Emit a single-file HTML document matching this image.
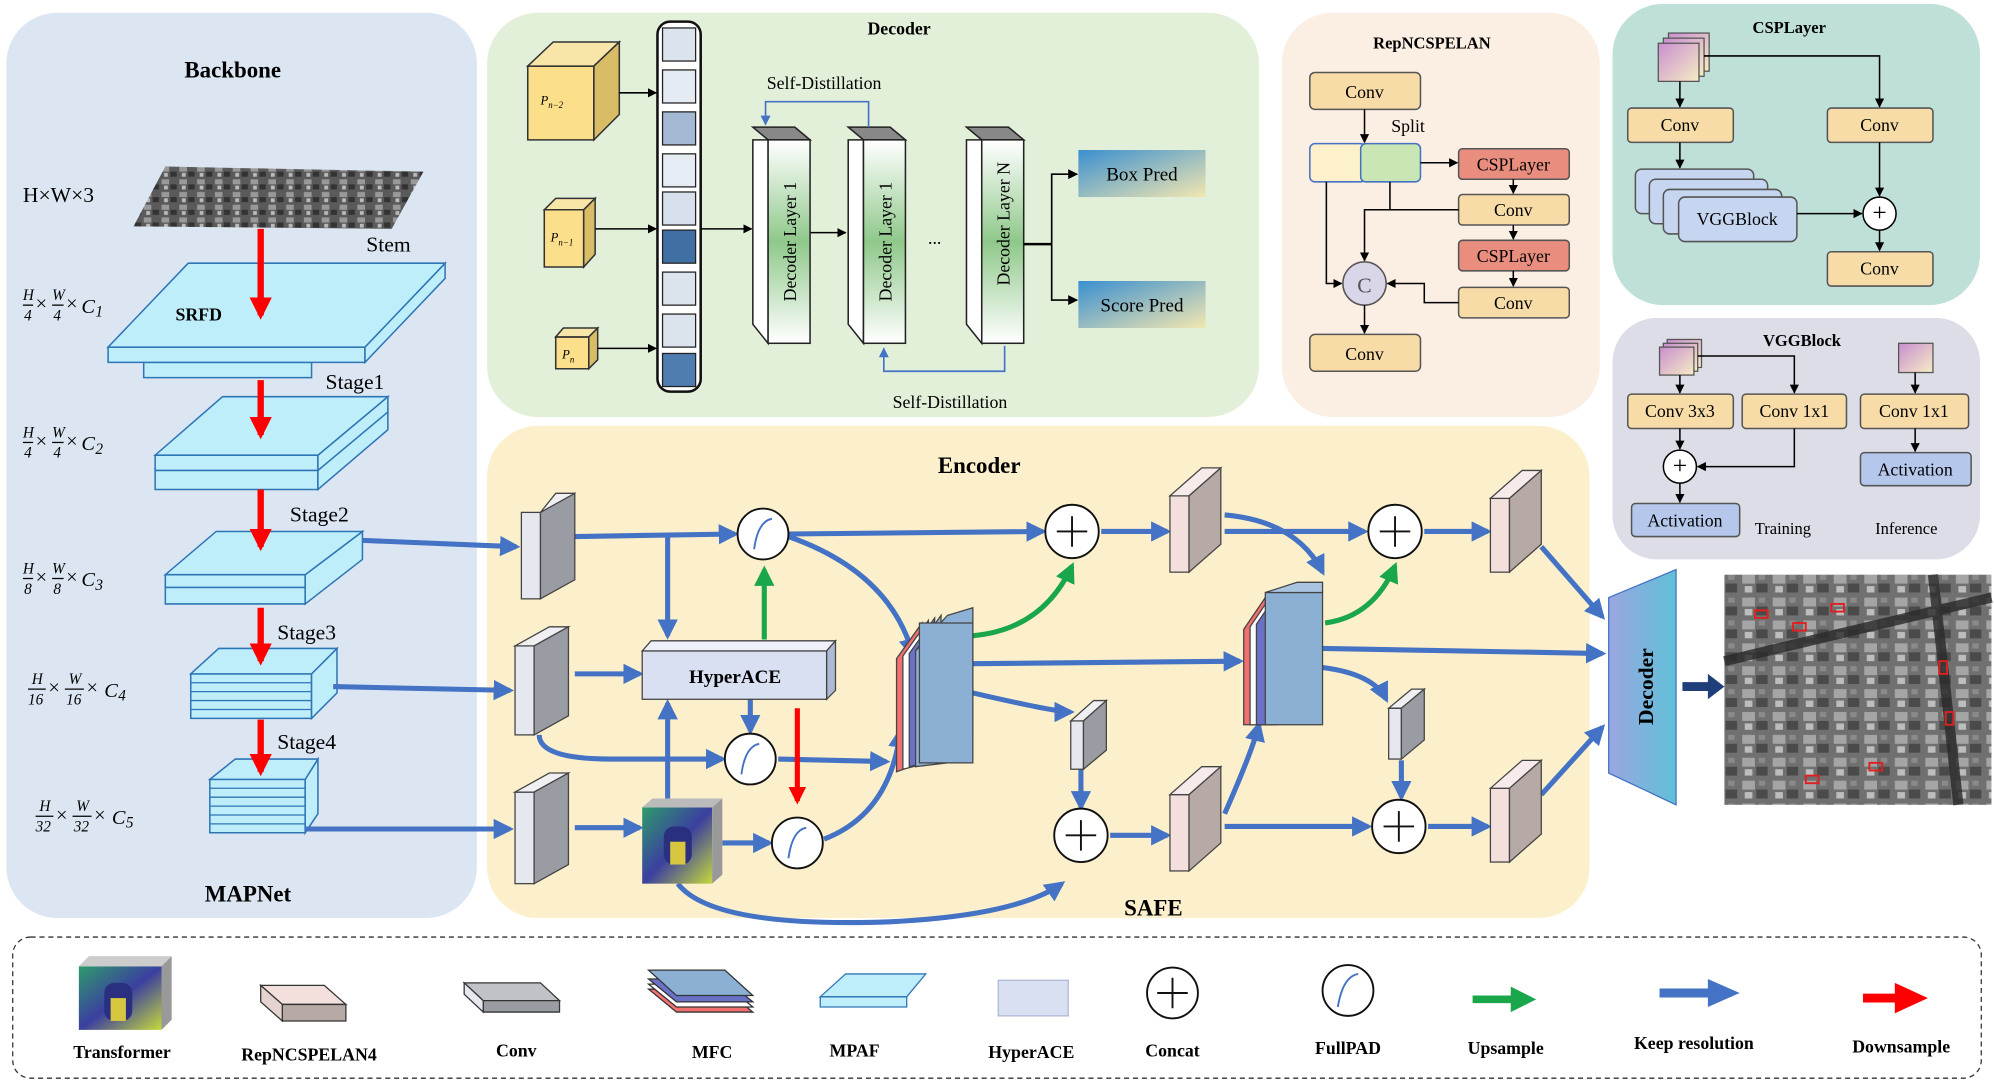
<!DOCTYPE html><html><head><meta charset="utf-8"><style>html,body{margin:0;padding:0;background:#fff}svg{display:block}text{font-family:"Liberation Serif",serif}</style></head><body>
<svg width="1994" height="1082" viewBox="0 0 1568 851" preserveAspectRatio="none" xmlns="http://www.w3.org/2000/svg">
<defs>
<marker id="ab" viewBox="0 0 10 10" refX="8" refY="5" markerWidth="4" markerHeight="4" orient="auto"><path d="M0,0L10,5L0,10z" fill="#4472c4"/></marker>
<marker id="ar" viewBox="0 0 10 10" refX="8" refY="5" markerWidth="3.5" markerHeight="3.5" orient="auto"><path d="M0,0L10,5L0,10z" fill="#f00"/></marker>
<marker id="ag" viewBox="0 0 10 10" refX="8" refY="5" markerWidth="4" markerHeight="4" orient="auto"><path d="M0,0L10,5L0,10z" fill="#1aa64a"/></marker>
<marker id="ak" viewBox="0 0 10 10" refX="9" refY="5" markerWidth="6" markerHeight="6" orient="auto"><path d="M0,0L10,5L0,10z" fill="#000"/></marker>
<marker id="at" viewBox="0 0 10 10" refX="9" refY="5" markerWidth="6" markerHeight="6" orient="auto"><path d="M0,0L10,5L0,10z" fill="#4472c4"/></marker>
<linearGradient id="gp" x1="0" y1="0" x2="1" y2="1"><stop offset="0" stop-color="#3a8fd0"/><stop offset="1" stop-color="#f3e7b0"/></linearGradient>
<linearGradient id="gd" x1="0" y1="0" x2="0" y2="1"><stop offset="0" stop-color="#fff"/><stop offset=".5" stop-color="#8fc88a"/><stop offset="1" stop-color="#fff"/></linearGradient>
<linearGradient id="gt" x1="0" y1="0" x2="1" y2="1"><stop offset="0" stop-color="#2e9b6b"/><stop offset=".5" stop-color="#3b3fa0"/><stop offset="1" stop-color="#c6d93a"/></linearGradient>
<linearGradient id="gf" x1="0" y1="0" x2="1" y2="1"><stop offset="0" stop-color="#c88fd0"/><stop offset="1" stop-color="#f6ecc4"/></linearGradient>
<linearGradient id="gdec" x1="0" y1="0" x2="1" y2="0"><stop offset="0" stop-color="#9aa6e0"/><stop offset="1" stop-color="#5fc0d8"/></linearGradient>
<pattern id="tex" width="14" height="10" patternUnits="userSpaceOnUse"><rect width="14" height="10" fill="#5a5a5a"/><rect x="1" y="1" width="6" height="4" fill="#999"/><rect x="8" y="5" width="5" height="4" fill="#333"/><rect x="3" y="6" width="3" height="3" fill="#bbb"/></pattern>
<pattern id="tex2" width="24" height="18" patternUnits="userSpaceOnUse"><rect width="24" height="18" fill="#707070"/><rect x="2" y="2" width="10" height="7" fill="#a5a5a5"/><rect x="13" y="9" width="9" height="7" fill="#4a4a4a"/><rect x="4" y="11" width="6" height="5" fill="#bdbdbd"/><rect x="15" y="2" width="5" height="4" fill="#8a8a8a"/></pattern>
</defs>
<!-- panels -->
<rect x="5" y="10" width="370" height="712" rx="40" fill="#dce6f2"/>
<rect x="383" y="10" width="607" height="318" rx="40" fill="#e3f0d9"/>
<rect x="1008" y="10" width="250" height="318" rx="40" fill="#fbeee2"/>
<rect x="1268" y="3" width="289" height="237" rx="40" fill="#bfe0d8"/>
<rect x="1268" y="250" width="289" height="190" rx="35" fill="#dcdde6"/>
<rect x="383" y="335" width="867" height="387" rx="40" fill="#fcefcb"/>
<rect x="10" y="737" width="1548" height="111" rx="14" fill="none" stroke="#333" stroke-dasharray="4,3"/>

<!-- Backbone -->
<text x="183" y="61" font-size="18" font-weight="bold" text-anchor="middle">Backbone</text>
<text x="18" y="159" font-size="17">H×W×3</text>
<polygon points="130,131 333,135 308,180 105,178" fill="url(#tex)"/>
<g fill="#bfeefb" stroke="#2e75b6" stroke-width="1.2">
<polygon points="113,285 245,285 245,297 113,297"/>
<polygon points="85,273 287,273 287,285 85,285"/><polygon points="287,273 350,207 350,219 287,285"/>
<polygon points="148,207 350,207 287,273 85,273"/>
<polygon points="122,368 250,368 250,385 122,385"/><polygon points="250,368 305,322 305,338 250,385"/>
<polygon points="122,358 250,358 250,370 122,370"/><polygon points="250,358 305,312 305,324 250,370"/>
<polygon points="175,312 305,312 250,358 122,358"/>
<polygon points="130,462 240,462 240,475 130,475"/><polygon points="130,452 240,452 240,462 130,462"/><polygon points="240,452 285,418 285,440 240,475"/>
<polygon points="170,418 285,418 240,452 130,452"/>
<polygon points="150,530 245,530 245,565 150,565"/><polygon points="245,530 265,510 265,545 245,565"/>
<polygon points="172,510 265,510 245,530 150,530"/>
<polygon points="165,613 240,613 240,655 165,655"/><polygon points="240,613 250,597 250,640 240,655"/>
<polygon points="185,597 250,597 240,613 165,613"/>
</g>
<g stroke="#2e75b6" stroke-width="1"><line x1="150" y1="537" x2="245" y2="537"/><line x1="150" y1="544" x2="245" y2="544"/><line x1="150" y1="551" x2="245" y2="551"/><line x1="150" y1="558" x2="245" y2="558"/>
<line x1="165" y1="620" x2="240" y2="620"/><line x1="165" y1="627" x2="240" y2="627"/><line x1="165" y1="634" x2="240" y2="634"/><line x1="165" y1="641" x2="240" y2="641"/><line x1="165" y1="648" x2="240" y2="648"/></g>
<text x="288" y="198" font-size="17">Stem</text>
<text x="138" y="252" font-size="14" font-weight="bold">SRFD</text>
<text x="256" y="306" font-size="17">Stage1</text>
<text x="228" y="410" font-size="17">Stage2</text>
<text x="218" y="503" font-size="17">Stage3</text>
<text x="218" y="589" font-size="17">Stage4</text>
<text x="195" y="709" font-size="18" font-weight="bold" text-anchor="middle">MAPNet</text>
<g stroke="#f00" stroke-width="5" marker-end="url(#ar)"><line x1="205" y1="180" x2="205" y2="248"/><line x1="205" y1="299" x2="205" y2="342"/><line x1="205" y1="385" x2="205" y2="430"/><line x1="205" y1="478" x2="205" y2="520"/><line x1="205" y1="566" x2="205" y2="607"/></g>
<g font-size="12" font-style="italic">
<g transform="translate(18,240)"><text x="0" y="-4">H</text><line x1="0" y1="0" x2="8" y2="0" stroke="#000"/><text x="1" y="12">4</text><text x="10" y="4" font-style="normal" font-size="16">×</text><text x="23" y="-4">W</text><line x1="23" y1="0" x2="32" y2="0" stroke="#000"/><text x="24" y="12">4</text><text x="34" y="4" font-style="normal" font-size="16">×</text><text x="46" y="6" font-size="16">C</text><text x="57" y="9">1</text></g>
<g transform="translate(18,348)"><text x="0" y="-4">H</text><line x1="0" y1="0" x2="8" y2="0" stroke="#000"/><text x="1" y="12">4</text><text x="10" y="4" font-style="normal" font-size="16">×</text><text x="23" y="-4">W</text><line x1="23" y1="0" x2="32" y2="0" stroke="#000"/><text x="24" y="12">4</text><text x="34" y="4" font-style="normal" font-size="16">×</text><text x="46" y="6" font-size="16">C</text><text x="57" y="9">2</text></g>
<g transform="translate(18,455)"><text x="0" y="-4">H</text><line x1="0" y1="0" x2="8" y2="0" stroke="#000"/><text x="1" y="12">8</text><text x="10" y="4" font-style="normal" font-size="16">×</text><text x="23" y="-4">W</text><line x1="23" y1="0" x2="32" y2="0" stroke="#000"/><text x="24" y="12">8</text><text x="34" y="4" font-style="normal" font-size="16">×</text><text x="46" y="6" font-size="16">C</text><text x="57" y="9">3</text></g>
<g transform="translate(22,542)"><text x="3" y="-4">H</text><line x1="0" y1="0" x2="14" y2="0" stroke="#000"/><text x="0" y="12">16</text><text x="16" y="4" font-style="normal" font-size="16">×</text><text x="32" y="-4">W</text><line x1="29" y1="0" x2="44" y2="0" stroke="#000"/><text x="30" y="12">16</text><text x="46" y="4" font-style="normal" font-size="16">×</text><text x="60" y="6" font-size="16">C</text><text x="71" y="9">4</text></g>
<g transform="translate(28,642)"><text x="3" y="-4">H</text><line x1="0" y1="0" x2="14" y2="0" stroke="#000"/><text x="0" y="12">32</text><text x="16" y="4" font-style="normal" font-size="16">×</text><text x="32" y="-4">W</text><line x1="29" y1="0" x2="44" y2="0" stroke="#000"/><text x="30" y="12">32</text><text x="46" y="4" font-style="normal" font-size="16">×</text><text x="60" y="6" font-size="16">C</text><text x="71" y="9">5</text></g>
</g>

<!-- Decoder panel -->
<text x="707" y="27" font-size="14" font-weight="bold" text-anchor="middle">Decoder</text>
<g stroke="#333" stroke-width="1.2">
<polygon points="415,52 467,52 467,110 415,110" fill="#fbdf8a"/><polygon points="415,52 435,33 487,33 467,52" fill="#f7e6a8"/><polygon points="467,52 487,33 487,90 467,110" fill="#d9bd66"/>
<polygon points="428,165 459,165 459,210 428,210" fill="#fbdf8a"/><polygon points="428,165 437,156 468,156 459,165" fill="#f7e6a8"/><polygon points="459,165 468,156 468,200 459,210" fill="#d9bd66"/>
<polygon points="437,265 463,265 463,290 437,290" fill="#fbdf8a"/><polygon points="437,265 443,258 470,258 463,265" fill="#f7e6a8"/><polygon points="463,265 470,258 470,283 463,290" fill="#d9bd66"/>
</g>
<text x="425" y="82" font-size="10" font-style="italic">P<tspan font-size="7" dy="3">n−2</tspan></text>
<text x="433" y="190" font-size="10" font-style="italic">P<tspan font-size="7" dy="3">n−1</tspan></text>
<text x="442" y="282" font-size="10" font-style="italic">P<tspan font-size="7" dy="3">n</tspan></text>
<rect x="517" y="17" width="34" height="291" rx="10" fill="#fff" stroke="#111" stroke-width="2"/>
<g stroke="#222"><rect x="521" y="22" width="26" height="26" fill="#dbe4ee"/><rect x="521" y="55" width="26" height="26" fill="#e4ebf3"/><rect x="521" y="88" width="26" height="26" fill="#a3b9d4"/><rect x="521" y="121" width="26" height="26" fill="#e6ecf3"/><rect x="521" y="151" width="26" height="26" fill="#d7e1ed"/><rect x="521" y="181" width="26" height="26" fill="#3f6fa3"/><rect x="521" y="214" width="26" height="26" fill="#dbe3ed"/><rect x="521" y="247" width="26" height="26" fill="#dbe3ed"/><rect x="521" y="278" width="26" height="26" fill="#4f7db0"/></g>
<g stroke="#000" stroke-width="1.2" marker-end="url(#ak)"><line x1="487" y1="73" x2="516" y2="73"/><line x1="468" y1="180" x2="516" y2="180"/><line x1="470" y1="274" x2="516" y2="274"/><line x1="551" y1="180" x2="591" y2="180"/><line x1="637" y1="183" x2="665" y2="183"/></g>
<g stroke="#222" stroke-width="1.2">
<polygon points="592,110 604,110 604,270 592,255" fill="#fff"/><polygon points="592,100 625,100 637,110 604,110" fill="#888"/><rect x="604" y="110" width="33" height="160" fill="url(#gd)"/>
<polygon points="667,110 679,110 679,270 667,255" fill="#fff"/><polygon points="667,100 700,100 712,110 679,110" fill="#888"/><rect x="679" y="110" width="33" height="160" fill="url(#gd)"/>
<polygon points="760,110 772,110 772,270 760,255" fill="#fff"/><polygon points="760,100 793,100 805,110 772,110" fill="#888"/><rect x="772" y="110" width="33" height="160" fill="url(#gd)"/>
</g>
<g font-size="14" text-anchor="middle"><text transform="translate(626,190) rotate(-90)">Decoder Layer 1</text><text transform="translate(701,190) rotate(-90)">Decoder Layer 1</text><text transform="translate(794,176) rotate(-90)">Decoder Layer N</text></g>
<text x="735" y="192" font-size="14" text-anchor="middle">...</text>
<text x="648" y="70" font-size="14" text-anchor="middle">Self-Distillation</text>
<text x="747" y="321" font-size="14" text-anchor="middle">Self-Distillation</text>
<g fill="none" stroke="#4472c4" stroke-width="1.3"><polyline points="683,100 683,80 602,80 602,98" marker-end="url(#at)"/><polyline points="790,272 790,292 695,292 695,274" marker-end="url(#at)"/></g>
<g fill="none" stroke="#000" stroke-width="2"><polyline points="805,192 827,192"/></g>
<g fill="none" stroke="#000" stroke-width="1.3" marker-end="url(#ak)"><polyline points="827,192 827,137 847,137"/><polyline points="827,192 827,236 847,236"/></g>
<rect x="848" y="118" width="100" height="37" fill="url(#gp)"/><rect x="848" y="221" width="100" height="37" fill="url(#gp)"/>
<text x="898" y="142" font-size="15" text-anchor="middle">Box Pred</text><text x="898" y="245" font-size="15" text-anchor="middle">Score Pred</text>

<!-- RepNCSPELAN -->
<text x="1126" y="38" font-size="13" font-weight="bold" text-anchor="middle">RepNCSPELAN</text>
<g stroke="#555" stroke-width="1.2">
<rect x="1030" y="57" width="87" height="29" rx="4" fill="#f8dca8"/>
<rect x="1030" y="113" width="44" height="30" rx="4" fill="#fdf1cc" stroke="#4472c4"/><rect x="1070" y="113" width="47" height="30" rx="4" fill="#c9e6b4" stroke="#4472c4"/>
<rect x="1147" y="117" width="87" height="24" rx="3" fill="#e98e7e"/>
<rect x="1147" y="153" width="87" height="24" rx="3" fill="#f8dca8"/>
<rect x="1147" y="189" width="87" height="24" rx="3" fill="#e98e7e"/>
<rect x="1147" y="226" width="87" height="24" rx="3" fill="#f8dca8"/>
<rect x="1030" y="263" width="87" height="29" rx="4" fill="#f8dca8"/>
<circle cx="1073" cy="223" r="17" fill="#d9d6ea"/>
</g>
<g font-size="14" text-anchor="middle"><text x="1073" y="77">Conv</text><text x="1190" y="134">CSPLayer</text><text x="1190" y="170">Conv</text><text x="1190" y="206">CSPLayer</text><text x="1190" y="243">Conv</text><text x="1073" y="283">Conv</text><text x="1073" y="230" font-size="17" fill="#555">C</text></g>
<text x="1094" y="104" font-size="14">Split</text>
<g fill="none" stroke="#000" stroke-width="1.2" marker-end="url(#ak)"><line x1="1073" y1="86" x2="1073" y2="112"/><line x1="1117" y1="128" x2="1146" y2="128"/><line x1="1190" y1="141" x2="1190" y2="152"/><line x1="1190" y1="177" x2="1190" y2="188"/><line x1="1190" y1="213" x2="1190" y2="225"/><polyline points="1043,143 1043,223 1055,223"/><polyline points="1093,143 1093,165 1147,165 1073,165 1073,205"/><polyline points="1147,238 1120,238 1120,223 1091,223"/><line x1="1073" y1="240" x2="1073" y2="262"/></g>

<!-- CSPLayer -->
<text x="1407" y="26" font-size="13" font-weight="bold" text-anchor="middle">CSPLayer</text>
<g stroke="#555"><rect x="1312" y="26" width="32" height="30" fill="url(#gf)"/><rect x="1308" y="30" width="32" height="30" fill="url(#gf)"/><rect x="1304" y="34" width="32" height="30" fill="url(#gf)"/></g>
<g stroke="#555" stroke-width="1.2">
<rect x="1280" y="85" width="83" height="27" rx="3" fill="#f8dca8"/><rect x="1437" y="85" width="83" height="27" rx="3" fill="#f8dca8"/>
<rect x="1286" y="133" width="93" height="35" rx="5" fill="#c6d5f0"/><rect x="1297" y="141" width="93" height="35" rx="5" fill="#c6d5f0"/><rect x="1308" y="149" width="93" height="35" rx="5" fill="#c6d5f0"/><rect x="1320" y="155" width="93" height="35" rx="5" fill="#c6d5f0"/>
<rect x="1437" y="198" width="83" height="27" rx="3" fill="#f8dca8"/>
<circle cx="1478" cy="168" r="13" fill="#fff" stroke="#000"/>
</g>
<g font-size="14" text-anchor="middle"><text x="1321" y="103">Conv</text><text x="1478" y="103">Conv</text><text x="1366" y="177">VGGBlock</text><text x="1478" y="216">Conv</text><text x="1478" y="174" font-size="20">+</text></g>
<g fill="none" stroke="#000" stroke-width="1.2" marker-end="url(#ak)"><line x1="1321" y1="64" x2="1321" y2="84"/><polyline points="1340,44 1478,44 1478,84"/><line x1="1321" y1="112" x2="1321" y2="132"/><line x1="1478" y1="112" x2="1478" y2="154"/><line x1="1413" y1="168" x2="1464" y2="168"/><line x1="1478" y1="181" x2="1478" y2="197"/></g>

<!-- VGGBlock -->
<text x="1417" y="272" font-size="13" font-weight="bold" text-anchor="middle">VGGBlock</text>
<g stroke="#555"><rect x="1311" y="267" width="27" height="22" fill="url(#gf)"/><rect x="1308" y="270" width="27" height="22" fill="url(#gf)"/><rect x="1305" y="273" width="27" height="22" fill="url(#gf)"/><rect x="1493" y="270" width="27" height="23" fill="url(#gf)"/></g>
<g stroke="#555" stroke-width="1.2">
<rect x="1280" y="310" width="83" height="27" rx="3" fill="#f8dca8"/><rect x="1370" y="310" width="82" height="27" rx="3" fill="#f8dca8"/><rect x="1463" y="310" width="85" height="27" rx="3" fill="#f8dca8"/>
<rect x="1283" y="396" width="85" height="26" rx="3" fill="#b5c8ec"/><rect x="1463" y="356" width="87" height="26" rx="3" fill="#b5c8ec"/>
<circle cx="1321" cy="367" r="13" fill="#fff" stroke="#000"/>
</g>
<g font-size="14" text-anchor="middle"><text x="1321" y="328">Conv 3x3</text><text x="1411" y="328">Conv 1x1</text><text x="1505" y="328">Conv 1x1</text><text x="1325" y="414">Activation</text><text x="1506" y="374">Activation</text><text x="1321" y="373" font-size="20">+</text></g>
<text x="1402" y="420" font-size="13" text-anchor="middle">Training</text><text x="1499" y="420" font-size="13" text-anchor="middle">Inference</text>
<g fill="none" stroke="#000" stroke-width="1.2" marker-end="url(#ak)"><line x1="1321" y1="295" x2="1321" y2="309"/><polyline points="1335,280 1411,280 1411,309"/><line x1="1321" y1="337" x2="1321" y2="353"/><polyline points="1411,337 1411,367 1335,367"/><line x1="1321" y1="380" x2="1321" y2="395"/><line x1="1506" y1="293" x2="1506" y2="309"/><line x1="1506" y1="337" x2="1506" y2="355"/></g>

<!-- Encoder -->
<text x="770" y="372" font-size="18" font-weight="bold" text-anchor="middle">Encoder</text>
<text x="907" y="720" font-size="18" font-weight="bold" text-anchor="middle">SAFE</text>
<g fill="none" stroke="#4472c4" stroke-width="4" marker-end="url(#ab)">
<line x1="285" y1="425" x2="406" y2="430"/><line x1="262" y1="540" x2="401" y2="543"/><line x1="240" y1="652" x2="401" y2="652"/>
<line x1="452" y1="422" x2="578" y2="420"/><polyline points="525,422 525,500"/><line x1="452" y1="530" x2="503" y2="530"/>
<path d="M424,578 Q424,597 480,597 L568,597"/><line x1="612" y1="597" x2="697" y2="599"/>
<line x1="452" y1="651" x2="503" y2="651"/><line x1="568" y1="663" x2="605" y2="663"/><line x1="525" y1="630" x2="525" y2="553"/>
<line x1="590" y1="550" x2="590" y2="575"/>
<line x1="620" y1="420" x2="820" y2="418"/><path d="M620,422 Q700,450 718,515"/><path d="M648,660 Q700,640 708,575"/>
<line x1="866" y1="418" x2="918" y2="418"/><line x1="765" y1="522" x2="975" y2="520"/><path d="M765,545 Q830,560 842,560"/>
<line x1="850" y1="605" x2="850" y2="635"/><path d="M533,695 Q560,730 700,725 Q800,720 835,695"/>
<line x1="873" y1="657" x2="918" y2="657"/>
<line x1="963" y1="418" x2="1073" y2="418"/><path d="M963,405 Q1020,410 1040,450"/><path d="M963,640 Q985,590 990,570"/>
<line x1="1120" y1="418" x2="1170" y2="418"/><line x1="1040" y1="510" x2="1260" y2="514"/><path d="M1040,525 Q1080,530 1090,550"/>
<line x1="1102" y1="598" x2="1102" y2="627"/><line x1="963" y1="650" x2="1076" y2="650"/><line x1="1123" y1="650" x2="1170" y2="650"/>
<line x1="1212" y1="430" x2="1260" y2="485"/><line x1="1212" y1="625" x2="1260" y2="572"/>
</g>
<line x1="1323" y1="540" x2="1345" y2="540" stroke="#1f3f7a" stroke-width="7"/><polygon points="1343,530 1356,540 1343,550" fill="#1f3f7a"/>
<g stroke="#1aa64a" stroke-width="4" fill="none" marker-end="url(#ag)"><line x1="601" y1="503" x2="601" y2="448"/><path d="M765,500 Q820,495 843,445"/><path d="M1042,490 Q1080,485 1097,445"/></g>
<line x1="627" y1="557" x2="627" y2="630" stroke="#f00" stroke-width="4" marker-end="url(#ar)"/>
<g stroke="#444" stroke-width="1">
<rect x="410" y="403" width="15" height="68" fill="#e6e8ef"/><polygon points="425,403 437,388 452,388 440,403" fill="#f0f0f3"/><polygon points="425,403 452,388 452,456 425,471" fill="#9a9ca3"/>
<rect x="405" y="508" width="15" height="70" fill="#e6e8ef"/><polygon points="405,508 432,493 447,493 420,508" fill="#f0f0f3"/><polygon points="420,508 447,493 447,563 420,578" fill="#9a9ca3"/>
<rect x="405" y="623" width="15" height="72" fill="#e6e8ef"/><polygon points="405,623 432,608 447,608 420,623" fill="#f0f0f3"/><polygon points="420,623 447,608 447,680 420,695" fill="#9a9ca3"/>
<rect x="842" y="567" width="10" height="38" fill="#e6e8ef"/><polygon points="842,567 860,551 870,551 852,567" fill="#f0f0f3"/><polygon points="852,567 870,551 870,590 852,605" fill="#9a9ca3"/>
<rect x="1092" y="557" width="10" height="40" fill="#e6e8ef"/><polygon points="1092,557 1110,542 1120,542 1102,557" fill="#f0f0f3"/><polygon points="1102,557 1120,542 1120,582 1102,597" fill="#9a9ca3"/>
<rect x="920" y="390" width="15" height="60" fill="#f3dfdc"/><polygon points="920,390 945,368 960,368 935,390" fill="#f7eaea"/><polygon points="935,390 960,368 960,428 935,450" fill="#b7a9a6"/>
<rect x="920" y="625" width="15" height="60" fill="#f3dfdc"/><polygon points="920,625 945,603 960,603 935,625" fill="#f7eaea"/><polygon points="935,625 960,603 960,663 935,685" fill="#b7a9a6"/>
<rect x="1172" y="392" width="15" height="58" fill="#f3dfdc"/><polygon points="1172,392 1197,370 1212,370 1187,392" fill="#f7eaea"/><polygon points="1187,392 1212,370 1212,428 1187,450" fill="#b7a9a6"/>
<rect x="1172" y="620" width="15" height="58" fill="#f3dfdc"/><polygon points="1172,620 1197,598 1212,598 1187,620" fill="#f7eaea"/><polygon points="1187,620 1212,598 1212,656 1187,678" fill="#b7a9a6"/>
<polygon points="505,512 650,512 657,504 512,504" fill="#eef1fa"/><polygon points="650,512 657,504 657,543 650,550" fill="#aeb9d6"/><rect x="505" y="512" width="145" height="38" fill="#d8e0f2"/>
<polygon points="705,518 725,490 725,600 705,607" fill="#f07070"/><polygon points="710,516 730,488 730,600 710,605" fill="#fff"/><polygon points="715,514 735,486 735,598 715,603" fill="#6a72c8"/><polygon points="720,512 740,484 740,596 720,603" fill="#8eb1d8"/><polygon points="720,512 745,484 765,478 765,578 745,600 720,603" fill="#8eb1d8"/><rect x="723" y="490" width="42" height="110" fill="#8cb0d4"/>
<polygon points="978,495 995,470 995,570 978,570" fill="#f07070"/><polygon points="983,493 1000,468 1000,570 983,570" fill="#fff"/><polygon points="988,491 1005,466 1005,570 988,570" fill="#6a72c8"/><rect x="995" y="466" width="45" height="104" fill="#8cb0d4"/><polygon points="995,466 1020,458 1040,458 1040,466" fill="#a9c4e0"/>
<g fill="#fff" stroke="#111" stroke-width="1.5"><circle cx="600" cy="420" r="20"/><circle cx="590" cy="597" r="20"/><circle cx="627" cy="663" r="20"/><circle cx="843" cy="418" r="21"/><circle cx="850" cy="657" r="21"/><circle cx="1097" cy="418" r="21"/><circle cx="1100" cy="650" r="21"/></g>
</g>
<g fill="none" stroke="#4472c4" stroke-width="1.5"><path d="M593,432 Q596,410 607,408"/><path d="M583,609 Q586,587 597,585"/><path d="M620,675 Q623,653 634,651"/></g>
<g stroke="#111" stroke-width="1.5"><path d="M843,406V430M831,418H855"/><path d="M850,645V669M838,657H862"/><path d="M1097,406V430M1085,418H1109"/><path d="M1100,638V662M1088,650H1112"/></g>
<text x="578" y="537" font-size="15" font-weight="bold" text-anchor="middle">HyperACE</text>
<rect x="505" y="635" width="55" height="60" fill="url(#gt)"/><polygon points="505,635 513,628 568,628 560,635" fill="#bbb"/><polygon points="560,635 568,628 568,688 560,695" fill="#999"/>
<rect x="522" y="650" width="22" height="30" rx="8" fill="#2a2f80"/><rect x="527" y="662" width="12" height="18" fill="#d7c640"/>
<polygon points="1265,470 1318,448 1318,633 1265,608" fill="url(#gdec)" stroke="#4472c4"/>
<text transform="translate(1300,540) rotate(-90)" font-size="17" font-weight="bold" text-anchor="middle">Decoder</text>
<rect x="1356" y="452" width="210" height="181" fill="url(#tex2)"/>
<g stroke="#2a2a2a" stroke-width="8" opacity=".8"><line x1="1356" y1="520" x2="1566" y2="470"/><line x1="1520" y1="452" x2="1540" y2="633"/></g>
<g fill="none" stroke="#e02020" stroke-width="1.5"><rect x="1380" y="480" width="10" height="6"/><rect x="1410" y="490" width="10" height="6"/><rect x="1440" y="475" width="10" height="6"/><rect x="1525" y="520" width="6" height="10"/><rect x="1530" y="560" width="6" height="10"/><rect x="1470" y="600" width="10" height="6"/><rect x="1420" y="610" width="10" height="6"/></g>

<!-- Legend -->
<rect x="62" y="760" width="65" height="50" fill="url(#gt)"/><polygon points="62,760 70,752 135,752 127,760" fill="#ccc"/><polygon points="127,760 135,752 135,802 127,810" fill="#999"/><rect x="82" y="773" width="22" height="30" rx="8" fill="#2a2f80"/><rect x="87" y="785" width="12" height="18" fill="#d7c640"/>
<g stroke="#333"><polygon points="205,775 255,775 272,790 222,790" fill="#f3dfdc"/><polygon points="222,790 272,790 272,803 222,803" fill="#b7a9a6"/><polygon points="205,775 222,790 222,803 205,788" fill="#e4d3cf"/>
<polygon points="365,773 425,773 440,787 380,787" fill="#c0c2c8"/><polygon points="380,787 440,787 440,796 380,796" fill="#9a9ca3"/><polygon points="365,773 380,787 380,796 365,782" fill="#e6e8ef"/>
<polygon points="510,778 570,778 592,796 532,796" fill="#f07070"/><polygon points="510,774 570,774 592,792 532,792" fill="#fff"/><polygon points="510,770 570,770 592,788 532,788" fill="#6a72c8"/><polygon points="510,763 570,763 592,783 532,783" fill="#8cb0d4"/>
<polygon points="665,766 728,766 713,784 645,784" fill="#bfeefb" stroke="#2e75b6"/><polygon points="645,784 713,784 713,792 645,792" fill="#bfeefb" stroke="#2e75b6"/>
<rect x="785" y="771" width="55" height="28" fill="#d8e0f2" stroke="#aeb9d6"/>
<circle cx="922" cy="781" r="20" fill="#fff" stroke="#111" stroke-width="1.5"/><circle cx="1060" cy="779" r="20" fill="#fff" stroke="#111" stroke-width="1.5"/></g>
<path d="M922,769V793M910,781H934" stroke="#111" stroke-width="1.5"/><path d="M1052,792 Q1056,768 1068,766" fill="none" stroke="#4472c4" stroke-width="1.5"/>
<line x1="1158" y1="786" x2="1190" y2="786" stroke="#1aa64a" stroke-width="6"/><polygon points="1188,776 1208,786 1188,796" fill="#1aa64a"/>
<line x1="1305" y1="781" x2="1345" y2="781" stroke="#4472c4" stroke-width="7"/><polygon points="1343,770 1368,781 1343,792" fill="#4472c4"/>
<line x1="1465" y1="785" x2="1492" y2="785" stroke="#f00" stroke-width="7"/><polygon points="1490,773 1516,785 1490,797" fill="#f00"/>
<g font-size="14" font-weight="bold" text-anchor="middle"><text x="96" y="832">Transformer</text><text x="243" y="834">RepNCSPELAN4</text><text x="406" y="831">Conv</text><text x="560" y="832">MFC</text><text x="672" y="831">MPAF</text><text x="811" y="832">HyperACE</text><text x="922" y="831">Concat</text><text x="1060" y="829">FullPAD</text><text x="1184" y="829">Upsample</text><text x="1332" y="825">Keep resolution</text><text x="1495" y="828">Downsample</text></g>
</svg>
</body></html>
